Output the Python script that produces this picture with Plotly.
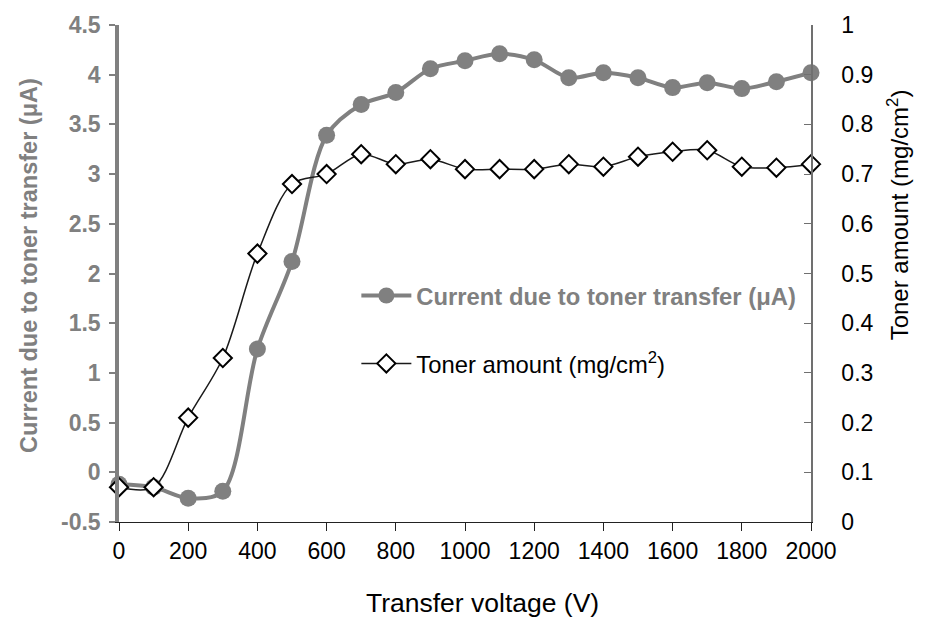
import plotly.graph_objects as go

# Transfer voltage sweep (V)
voltage = [0, 100, 200, 300, 400, 500, 600, 700, 800, 900, 1000,
           1100, 1200, 1300, 1400, 1500, 1600, 1700, 1800, 1900, 2000]

# Current due to toner transfer (uA), left axis
current = [-0.12, -0.15, -0.26, -0.19, 1.24, 2.12, 3.39, 3.70, 3.82, 4.06, 4.14,
           4.21, 4.15, 3.97, 4.02, 3.97, 3.87, 3.92, 3.86, 3.93, 4.02]

# Toner amount (mg/cm^2), right axis
toner = [0.07, 0.07, 0.21, 0.33, 0.54, 0.68, 0.70, 0.74, 0.72, 0.73, 0.71,
         0.71, 0.71, 0.72, 0.715, 0.735, 0.745, 0.748, 0.715, 0.713, 0.72]

# Left-axis ticks, written with a plain hyphen for the negative value
current_ticks = [-0.5, 0, 0.5, 1, 1.5, 2, 2.5, 3, 3.5, 4, 4.5]
current_tick_labels = ["-0.5", "0", "0.5", "1", "1.5", "2", "2.5", "3", "3.5", "4", "4.5"]

GRAY = "#808080"
FONT = "Liberation Sans, Arial, sans-serif"

fig = go.Figure()

fig.add_trace(go.Scatter(
    x=voltage, y=current, yaxis="y",
    name='<b><span style="color:#808080">Current due to toner transfer (μA)</span></b>',
    mode="lines+markers",
    line=dict(color=GRAY, width=4, shape="spline", smoothing=0.9),
    marker=dict(symbol="circle", size=17, color=GRAY, line=dict(width=0)),
    cliponaxis=False,
    legendgroup="a",
))

fig.add_trace(go.Scatter(
    x=voltage, y=toner, yaxis="y2",
    name="Toner amount (mg/cm<sup>2</sup>)",
    mode="lines+markers",
    line=dict(color="#1a1a1a", width=1.5, shape="spline", smoothing=0.9),
    marker=dict(symbol="diamond", size=14, color="white",
                line=dict(color="black", width=2)),
    cliponaxis=False,
    legendgroup="b",
))

fig.update_layout(
    width=925, height=624,
    margin=dict(l=119, r=114, t=19, b=102),
    paper_bgcolor="white", plot_bgcolor="white",
    font=dict(family=FONT, size=23, color="black"),
    showlegend=True,
    legend=dict(
        x=0.343, y=0.50, xanchor="left", yanchor="top",
        bgcolor="rgba(0,0,0,0)", borderwidth=0,
        font=dict(family=FONT, size=23.8, color="black"),
        traceorder="grouped", tracegroupgap=34,
        itemwidth=50,
    ),
    xaxis=dict(
        range=[0, 2000], dtick=200, tick0=0,
        showgrid=False, zeroline=False,
        showline=True, linecolor="#222", linewidth=1.2,
        ticks="outside", ticklen=8, tickcolor="#222", tickwidth=1.2,
        tickfont=dict(family=FONT, size=23, color="black"),
    ),
    yaxis=dict(
        range=[-0.5, 4.5],
        tickvals=current_ticks, ticktext=current_tick_labels,
        showgrid=False, zeroline=False,
        showline=True, linecolor=GRAY, linewidth=3.5,
        ticks="outside", ticklen=6, tickcolor=GRAY, tickwidth=2,
        ticklabelstandoff=4,
        tickfont=dict(family=FONT, size=23, color=GRAY, weight="bold"),
    ),
    yaxis2=dict(
        range=[0, 1], dtick=0.1, tick0=0,
        overlaying="y", side="right",
        showgrid=False, zeroline=False,
        showline=True, linecolor="#707070", linewidth=1.5,
        ticks="inside", ticklen=7, tickcolor="#707070", tickwidth=1.2,
        ticklabelstandoff=24,
        tickfont=dict(family=FONT, size=23, color="black"),
    ),
    annotations=[
        dict(text="Transfer voltage (V)",
             xref="paper", yref="paper",
             x=0.525, y=-0.162, xanchor="center", yanchor="middle",
             showarrow=False,
             font=dict(family=FONT, size=26.5, color="black")),
        dict(text="<b>Current due to toner transfer (μA)</b>",
             textangle=-90, xref="paper", yref="paper",
             x=-0.131, y=0.516, xanchor="center", yanchor="middle",
             showarrow=False,
             font=dict(family=FONT, size=23.5, color=GRAY)),
        dict(text="Toner amount (mg/cm<sup>2</sup>)",
             textangle=-90, xref="paper", yref="paper",
             x=1.125, y=0.618, xanchor="center", yanchor="middle",
             showarrow=False,
             font=dict(family=FONT, size=24, color="black")),
    ],
)

fig.write_html("out.html")
